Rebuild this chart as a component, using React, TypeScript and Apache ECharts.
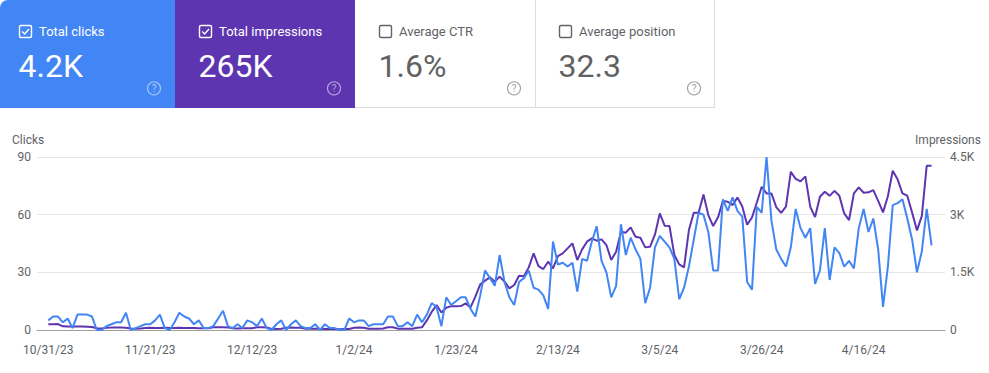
import React, { useEffect, useRef } from 'react';
import * as echarts from 'echarts';

// Daily clicks, 10/31/23 .. 4/30/24
const clicks = [
  5, 7, 7, 4, 6, 1, 8, 8, 8, 7,
  0, 0, 2, 3, 4, 4, 9, 0, 1, 2,
  3, 3, 5, 8, 1, 0, 4, 9, 7, 6,
  3, 5, 1, 1, 2, 6, 10, 2, 1, 3,
  1, 5, 4, 2, 6, 1, 0, 3, 5, 0,
  3, 5, 2, 1, 1, 3, 0, 3, 1, 1,
  0, 0, 6, 4, 5, 5, 2, 3, 3, 3,
  7, 7, 2, 2, 4, 2, 8, 4, 8, 14,
  12, 2, 17, 13, 15, 17, 17, 11, 7, 18,
  31, 27, 23, 39, 25, 17, 13, 25, 27, 31,
  22, 21, 18, 11, 46, 34, 35, 33, 35, 20,
  37, 36, 46, 54, 36, 30, 17, 23, 55, 39,
  48, 42, 37, 14, 22, 43, 49, 46, 43, 37,
  16, 22, 33, 47, 61, 60, 51, 31, 31, 68,
  62, 69, 62, 59, 25, 21, 64, 61, 90, 57,
  42, 37, 33, 43, 63, 53, 48, 53, 24, 31,
  53, 26, 43, 40, 33, 36, 32, 53, 63, 51,
  58, 42, 12, 33, 65, 66, 68, 58, 47, 30,
  41, 63, 44,
];

// Daily impressions
const impressions = [
  150, 150, 155, 95, 90, 92, 88, 90, 85, 80,
  45, 40, 60, 62, 65, 65, 60, 38, 35, 40,
  55, 58, 52, 55, 60, 50, 55, 58, 55, 52,
  50, 45, 48, 45, 70, 72, 70, 68, 45, 42,
  45, 48, 45, 70, 72, 68, 30, 28, 30, 60,
  62, 60, 58, 35, 32, 35, 30, 26, 28, 25,
  22, 25, 28, 60, 62, 58, 35, 32, 35, 38,
  70, 72, 35, 32, 30, 35, 60, 70, 250, 470,
  647, 457, 578, 620, 620, 624, 693, 589, 867, 1187,
  1283, 1369, 1257, 1387, 1257, 1083, 1170, 1413, 1400, 1629,
  1993, 1664, 1586, 1777, 1603, 1924, 1993, 2123, 2253, 1820,
  2097, 2297, 2384, 2323, 2357, 2210, 1820, 2037, 2557, 2531,
  2669, 2427, 2401, 2149, 2167, 2480, 3033, 2713, 2704, 1950,
  1707, 1629, 2600, 3050, 3050, 3527, 2990, 2704, 2930, 3354,
  3337, 3250, 3445, 3215, 2740, 2925, 3315, 3727, 3553, 3553,
  3198, 3046, 3207, 4117, 3930, 3865, 3995, 3207, 2938, 3467,
  3597, 3490, 3620, 3493, 3033, 2860, 3553, 3709, 3571, 3580,
  3640, 3360, 3059, 3480, 4143, 3920, 3553, 3493, 3050, 2590,
  2970, 4273, 4273,
];

// X tick positions (day index) and labels
const tickDays = [0, 21, 42, 63, 84, 105, 126, 147, 168];
const tickLabels = ['10/31/23', '11/21/23', '12/12/23', '1/2/24', '1/23/24', '2/13/24', '3/5/24', '3/26/24', '4/16/24'];

// Summary cards
const cardTitles = ['Total clicks', 'Total impressions', 'Average CTR', 'Average position'];
const cardValues = ['4.2K', '265K', '1.6%', '32.3'];
const cardChecked = [true, true, false, false];
const cardFills = ['#4285f4', '#5e35b1', '#ffffff', '#ffffff'];

const FONT = 'Roboto';
const GRAY = '#5f6368';

function buildCards(): any[] {
  const els: any[] = [];
  for (let i = 0; i < 4; i++) {
    const left = -5 + 180 * i;
    const filled = i < 2;
    const fg = filled ? '#ffffff' : GRAY;
    const help = filled ? 'rgba(255,255,255,0.55)' : '#a0a4a8';
    els.push({
      type: 'rect',
      shape: { x: Math.max(left, 0), y: 0, width: i === 0 ? 175 : 180, height: 108, r: i === 0 ? [8, 0, 0, 0] : 0 },
      style: { fill: cardFills[i] },
      silent: true,
    });
    els.push({
      type: 'rect',
      shape: { x: left + 24.5, y: 25.5, width: 12, height: 12, r: 1.5 },
      style: { fill: 'none', stroke: fg, lineWidth: 1.4 },
      silent: true,
    });
    if (cardChecked[i]) {
      els.push({
        type: 'polyline',
        shape: { points: [[left + 27.2, 31.6], [left + 29.6, 34], [left + 34, 29]] },
        style: { fill: 'none', stroke: fg, lineWidth: 1.4 },
        silent: true,
      });
    }
    els.push({
      type: 'text',
      x: left + 44,
      y: 31.8,
      style: { text: cardTitles[i], fill: fg, fontSize: 13, fontFamily: FONT, align: 'left', verticalAlign: 'middle' },
      silent: true,
    });
    els.push({
      type: 'text',
      x: left + 23.5,
      y: 65.5,
      style: { text: cardValues[i], fill: filled ? '#ffffff' : '#616161', fontSize: 32, fontFamily: FONT, align: 'left', verticalAlign: 'middle' },
      silent: true,
    });
    els.push({
      type: 'circle',
      shape: { cx: left + 159, cy: 88.3, r: 6.5 },
      style: { fill: 'none', stroke: help, lineWidth: 1.2 },
      silent: true,
    });
    els.push({
      type: 'text',
      x: left + 159,
      y: 88.6,
      style: { text: '?', fill: help, fontSize: 10, fontFamily: FONT, align: 'center', verticalAlign: 'middle' },
      silent: true,
    });
  }
  // borders of the white cards
  const border = { stroke: '#dadce0', lineWidth: 1 };
  els.push({ type: 'line', shape: { x1: 535.5, y1: 0, x2: 535.5, y2: 108 }, style: border, silent: true });
  els.push({ type: 'line', shape: { x1: 714.5, y1: 0, x2: 714.5, y2: 108 }, style: border, silent: true });
  els.push({ type: 'line', shape: { x1: 355, y1: 107.5, x2: 715, y2: 107.5 }, style: border, silent: true });
  // left axis title
  els.push({
    type: 'text',
    x: 12,
    y: 140,
    style: { text: 'Clicks', fill: GRAY, fontSize: 12, fontFamily: FONT, align: 'left', verticalAlign: 'middle' },
    silent: true,
  });
  return els;
}

export default function App() {
  const ref = useRef<HTMLDivElement>(null);
  useEffect(() => {
    if (!ref.current) return;
    const chart = echarts.init(ref.current, null, { renderer: 'svg' });
    const axisText = { color: GRAY, fontSize: 12, fontFamily: FONT };
    chart.setOption({
      animation: false,
      backgroundColor: '#ffffff',
      textStyle: { fontFamily: FONT },
      grid: { left: 37, right: 44, top: 157, bottom: 43, containLabel: false, outerBoundsMode: 'none' },
      xAxis: {
        type: 'value',
        min: -2.33,
        max: 184.77,
        splitLine: { show: false },
        axisTick: { show: false },
        axisLine: { show: true, lineStyle: { color: '#9e9e9e', width: 1 } },
        axisLabel: {
          ...axisText,
          margin: 14,
          customValues: tickDays,
          formatter: (v: number) => {
            const k = tickDays.indexOf(Math.round(v));
            return k >= 0 ? tickLabels[k] : '';
          },
        },
      },
      yAxis: [
        {
          type: 'value',
          min: 0,
          max: 90,
          interval: 30,
          axisLine: { show: false },
          axisTick: { show: false },
          axisLabel: { ...axisText, margin: 6 },
          splitLine: { show: true, lineStyle: { color: '#e6e6e6', width: 1 } },
        },
        {
          type: 'value',
          min: 0,
          max: 4500,
          interval: 1500,
          name: 'Impressions',
          nameLocation: 'end',
          nameGap: 11,
          nameTextStyle: { ...axisText, align: 'center', padding: [0, 0, 0, 6] },
          position: 'right',
          axisLine: { show: false },
          axisTick: { show: false },
          axisLabel: {
            ...axisText,
            margin: 5,
            formatter: (v: number) => (v === 0 ? '0' : `${v / 1000}K`),
          },
          splitLine: { show: false },
        },
      ],
      series: [
        {
          name: 'Impressions',
          type: 'line',
          yAxisIndex: 1,
          data: impressions.map((v, i) => [i, v]),
          showSymbol: false,
          lineStyle: { color: '#5e35b1', width: 2 },
          itemStyle: { color: '#5e35b1' },
        },
        {
          name: 'Clicks',
          type: 'line',
          yAxisIndex: 0,
          data: clicks.map((v, i) => [i, v]),
          showSymbol: false,
          lineStyle: { color: '#4285f4', width: 2 },
          itemStyle: { color: '#4285f4' },
        },
      ],
      graphic: buildCards(),
    });
    return () => chart.dispose();
  }, []);
  return (
    <div
      ref={ref}
      style={{ position: 'absolute', left: 0, top: 0, width: 989, height: 373, background: '#ffffff' }}
    />
  );
}
